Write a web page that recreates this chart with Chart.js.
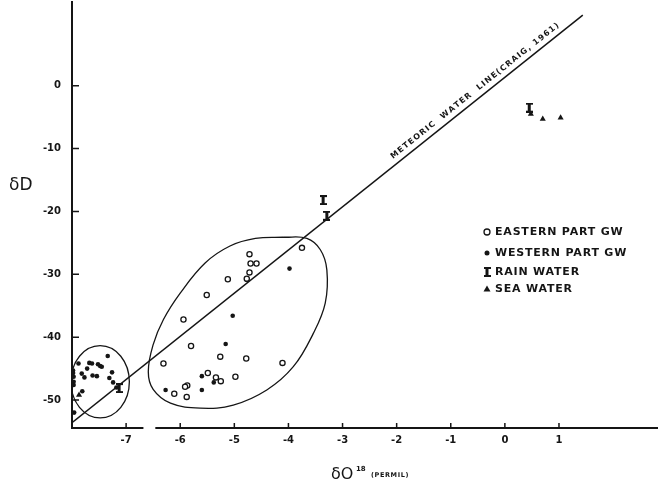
<!DOCTYPE html>
<html>
<head>
<meta charset="utf-8">
<script src="https://cdn.jsdelivr.net/npm/chart.js@4.4.0/dist/chart.umd.min.js"></script>
<style>html,body{margin:0;padding:0;background:#fff}</style>
</head>
<body>
<canvas id="isoChart" width="658" height="484"></canvas>
<script>
const ctx = document.getElementById('isoChart');

// Axis ticks
var xTicks = [-7, -6, -5, -4, -3, -2, -1, 0, 1];
var yTicks = [0, -10, -20, -30, -40, -50];
var axisBreak = [-6.68, -6.46];

// Eastern part groundwater (open circles)
var easternX = [-4.72, -4.70, -4.59, -4.72, -5.12, -4.77, -3.75, -5.51, -5.94, -5.80, -5.26,
    -4.78, -4.11, -6.31, -4.98, -5.25, -5.34, -5.49, -5.87, -5.91, -6.11, -5.88];
var easternY = [-26.8, -28.3, -28.3, -29.7, -30.8, -30.7, -25.8, -33.3, -37.2, -41.4, -43.1,
    -43.4, -44.1, -44.2, -46.3, -47.0, -46.4, -45.7, -47.7, -47.9, -49.0, -49.5];

// Western part groundwater (filled dots)
var westernX = [-3.98, -4.77, -5.03, -5.16, -5.60, -5.38, -6.27, -5.60,
    -7.34, -7.88, -7.68, -7.63, -7.52, -7.48, -7.45, -7.72, -7.98, -7.98, -7.97, -7.97, -7.97,
    -7.82, -7.77, -7.62, -7.54, -7.26, -7.31, -7.24, -7.18, -7.81, -7.96];
var westernY = [-29.1, -30.9, -36.6, -41.1, -46.2, -47.2, -48.4, -48.4,
    -43.0, -44.2, -44.1, -44.2, -44.3, -44.6, -44.7, -45.0, -45.3, -45.7, -46.3, -47.1, -47.6,
    -45.8, -46.4, -46.1, -46.2, -45.6, -46.5, -47.2, -48.0, -48.6, -52.0];

// Rain water
var rainX = [-3.36, -3.29, 0.45, -7.13];
var rainY = [-18.2, -20.7, -3.5, -48.1];

// Sea water
var seaX = [0.48, 0.70, 1.03, -7.87];
var seaY = [-4.5, -5.3, -5.1, -49.2];

// Meteoric water line (as drawn)
var mwlX = [-8.0, 1.44];
var mwlY = [-53.6, 11.2];

// Envelope around the main groundwater group (closed loop)
var envX = [-4.10, -3.66, -3.41, -3.29, -3.32, -3.54, -3.91, -4.40, -5.02, -5.63, -6.18, -6.50,
    -6.59, -6.50, -6.31, -6.00, -5.54, -5.08, -4.61, -4.10];
var envY = [-24.1, -24.3, -26.1, -29.3, -34.6, -39.4, -44.7, -48.4, -50.8, -51.3, -50.5, -48.3,
    -45.5, -41.2, -37.2, -33.0, -28.2, -25.5, -24.3, -24.1];

// Small ellipse around the left group: centre and radii in data units
var leftGroup = {cx: -7.48, cy: -47.1, rx: 0.54, ry: 5.75};

var legendLabels = ['EASTERN PART GW', 'WESTERN PART GW', 'RAIN WATER', 'SEA WATER'];

function pts(xs, ys) {
    return xs.map(function (x, i) { return {x: x, y: ys[i]}; });
}

var ink = '#151515';

// I-shaped marker for rain water
var rainMark = document.createElement('canvas');
rainMark.width = 7; rainMark.height = 10;
var g = rainMark.getContext('2d');
g.fillStyle = ink;
g.fillRect(0, 0, 7, 2);
g.fillRect(0, 8, 7, 2);
g.fillRect(2, 0, 3, 10);

function noPadding(s) {
    s.paddingTop = 0; s.paddingBottom = 0; s.paddingLeft = 0; s.paddingRight = 0;
}

var decor = {
    id: 'decor',
    beforeDatasetsDraw: function (chart) {
        var c = chart.ctx, xs = chart.scales.x, ys = chart.scales.y, a = chart.chartArea;
        c.save();
        c.beginPath();
        c.rect(a.left, a.top, a.right - a.left, a.bottom - a.top);
        c.clip();
        var cx = xs.getPixelForValue(leftGroup.cx), cy = ys.getPixelForValue(leftGroup.cy);
        var rx = xs.getPixelForValue(leftGroup.cx + leftGroup.rx) - cx;
        var ry = cy - ys.getPixelForValue(leftGroup.cy + leftGroup.ry);
        c.strokeStyle = ink;
        c.lineWidth = 1.3;
        c.beginPath();
        c.ellipse(cx, cy, rx, ry, 0, 0, Math.PI * 2);
        c.stroke();
        c.restore();
    },
    afterDraw: function (chart) {
        var c = chart.ctx, xs = chart.scales.x, ys = chart.scales.y, a = chart.chartArea;
        c.save();
        c.strokeStyle = ink;
        c.fillStyle = ink;

        // x axis in two pieces (broken axis)
        var yb = a.bottom;
        c.lineWidth = 2;
        c.beginPath();
        c.moveTo(a.left, yb);
        c.lineTo(xs.getPixelForValue(axisBreak[0]), yb);
        c.moveTo(xs.getPixelForValue(axisBreak[1]), yb);
        c.lineTo(a.right, yb);
        c.stroke();

        // inward tick marks
        c.lineWidth = 1.5;
        c.beginPath();
        xTicks.forEach(function (v) {
            var px = xs.getPixelForValue(v);
            c.moveTo(px, yb);
            c.lineTo(px, yb - 5);
        });
        yTicks.forEach(function (v) {
            var py = ys.getPixelForValue(v);
            c.moveTo(a.left, py);
            c.lineTo(a.left + 7, py);
        });
        c.stroke();

        // label along the meteoric water line
        var p1x = xs.getPixelForValue(mwlX[0]), p1y = ys.getPixelForValue(mwlY[0]);
        var p2x = xs.getPixelForValue(mwlX[1]), p2y = ys.getPixelForValue(mwlY[1]);
        var ang = Math.atan2(p2y - p1y, p2x - p1x);
        var t = (xs.getPixelForValue(-2.0) - p1x) / (p2x - p1x);
        c.save();
        c.translate(p1x + t * (p2x - p1x), p1y + t * (p2y - p1y));
        c.rotate(ang);
        c.font = 'bold 8px "DejaVu Sans"';
        c.textBaseline = 'alphabetic';
        var txt = 'METEORIC  WATER  LINE(CRAIG, 1961)';
        var natural = c.measureText(txt).width;
        var gap = (212 - natural) / (txt.length - 1);
        var pos = 0;
        for (var i = 0; i < txt.length; i++) {
            c.fillText(txt[i], pos, -6);
            pos += c.measureText(txt[i]).width + gap;
        }
        c.restore();

        // legend
        var lx = 487, tx = 495, rows = [232, 253, 272, 289];
        c.font = 'bold 11px "DejaVu Sans"';
        c.textBaseline = 'middle';
        c.textAlign = 'left';
        if ('letterSpacing' in c) c.letterSpacing = '0.8px';
        legendLabels.forEach(function (lab, i) {
            c.fillText(lab, tx, rows[i] + 0.5);
        });
        if ('letterSpacing' in c) c.letterSpacing = '0px';
        c.lineWidth = 1.3;
        c.beginPath(); c.arc(lx, rows[0], 3, 0, Math.PI * 2); c.stroke();
        c.beginPath(); c.arc(lx, rows[1], 2.5, 0, Math.PI * 2); c.fill();
        c.drawImage(rainMark, lx - 3.5, rows[2] - 5);
        c.beginPath();
        c.moveTo(lx, rows[3] - 3.5); c.lineTo(lx + 3.5, rows[3] + 2.5); c.lineTo(lx - 3.5, rows[3] + 2.5);
        c.closePath(); c.fill();

        // axis titles
        c.textBaseline = 'alphabetic';
        c.font = '17px "DejaVu Sans"';
        c.fillText('\u03B4D', 9, 190);
        c.font = '16px "DejaVu Sans"';
        c.fillText('\u03B4O', 331, 479);
        c.font = 'bold 7px "DejaVu Sans"';
        c.fillText('18', 356, 471);
        c.font = 'bold 6.5px "DejaVu Sans"';
        if ('letterSpacing' in c) c.letterSpacing = '0.6px';
        c.fillText('(PERMIL)', 371, 477);
        c.restore();
    }
};

new Chart(ctx, {
    type: 'scatter',
    data: {
        datasets: [
            {
                label: 'Meteoric water line',
                type: 'line',
                data: pts(mwlX, mwlY),
                borderColor: ink,
                borderWidth: 1.5,
                pointRadius: 0,
                fill: false
            },
            {
                label: 'Envelope',
                type: 'line',
                data: pts(envX, envY),
                borderColor: ink,
                borderWidth: 1.3,
                pointRadius: 0,
                tension: 0.4,
                fill: false
            },
            {
                label: legendLabels[0],
                data: pts(easternX, easternY),
                pointStyle: 'circle',
                pointRadius: 2.6,
                borderWidth: 1.3,
                borderColor: ink,
                backgroundColor: '#fff'
            },
            {
                label: legendLabels[1],
                data: pts(westernX, westernY),
                pointStyle: 'circle',
                pointRadius: 2.3,
                borderWidth: 0,
                backgroundColor: ink
            },
            {
                label: legendLabels[2],
                data: pts(rainX, rainY),
                pointStyle: rainMark
            },
            {
                label: legendLabels[3],
                data: pts(seaX, seaY),
                pointStyle: 'triangle',
                pointRadius: 3.5,
                borderWidth: 0,
                backgroundColor: ink
            }
        ]
    },
    options: {
        responsive: false,
        animation: false,
        layout: {autoPadding: false, padding: {top: 2, right: 0, left: 0, bottom: 0}},
        plugins: {
            legend: {display: false},
            tooltip: {enabled: false}
        },
        scales: {
            x: {
                type: 'linear',
                min: -8.0,
                max: 2.83,
                afterBuildTicks: function (s) { s.ticks = xTicks.map(function (v) { return {value: v}; }); },
                afterFit: function (s) { s.height = 56; noPadding(s); },
                grid: {display: false, drawTicks: false},
                border: {display: false},
                ticks: {
                    color: ink,
                    padding: 6,
                    font: {family: 'DejaVu Sans', size: 10, weight: 'bold'},
                    maxRotation: 0,
                    callback: function (v) { return String(v); }
                }
            },
            y: {
                type: 'linear',
                min: -54.45,
                max: 13.3,
                afterBuildTicks: function (s) { s.ticks = yTicks.map(function (v) { return {value: v}; }); },
                afterFit: function (s) { s.width = 72; noPadding(s); },
                grid: {display: false, drawTicks: false},
                border: {display: true, color: ink, width: 2},
                ticks: {
                    color: ink,
                    padding: 11,
                    font: {family: 'DejaVu Sans', size: 10, weight: 'bold'},
                    callback: function (v) { return String(v); }
                }
            }
        }
    },
    plugins: [decor]
});
</script>
</body>
</html>
